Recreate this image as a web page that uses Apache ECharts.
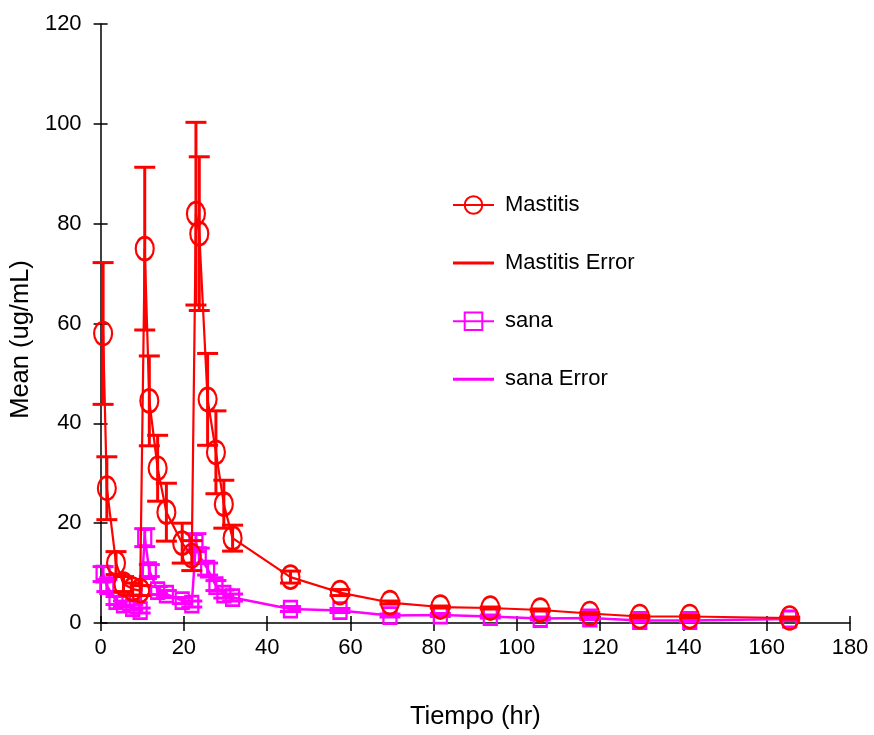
<!DOCTYPE html>
<html>
<head>
<meta charset="utf-8">
<script src="https://cdn.jsdelivr.net/npm/echarts@6/dist/echarts.min.js"></script>
<style>
  html, body { margin: 0; padding: 0; background: #ffffff; }
  #chart { width: 874px; height: 735px; }
</style>
</head>
<body>
<div id="chart"></div>
<script>
// Sampling times (hr)
const times = [0.6, 1.5, 3.7, 5.5, 7.7, 9.5, 10.6, 11.7, 13.7, 15.8, 19.6, 21.9, 22.9, 23.7,
               25.7, 27.7, 29.6, 31.7, 45.6, 57.5, 69.5, 81.6, 93.6, 105.6, 117.5, 129.5, 141.5, 165.5];

// Mastitis group: mean and standard deviation (ug/mL)
const mastitisMean = [58, 27, 12, 7.8, 6.8, 6.5, 75, 44.5, 31, 22.2, 16, 13.5, 82, 78,
                      44.8, 34.2, 23.8, 17, 9.2, 6.1, 4.1, 3.2, 3.0, 2.6, 1.9, 1.3, 1.3, 1.0];
const mastitisSD   = [14.2, 6.3, 2.3, 1.5, 1.2, 1.0, 16.3, 9.0, 6.6, 5.8, 4.0, 3.0, 18.3, 15.4,
                      9.2, 8.3, 4.8, 2.6, 1.2, 0.6, 0.3, 0.2, 0.2, 0.2, 0.2, 0.2, 0.2, 0.2];

// Healthy group ("sana"): mean and standard deviation (ug/mL)
const sanaMean = [9.8, 7.5, 4.5, 3.8, 3.1, 2.5, 17.1, 10.5, 6.5, 5.8, 4.5, 3.8, 16.1, 13.5,
                  10.8, 7.5, 5.8, 5.1, 2.8, 2.5, 1.5, 1.6, 1.3, 0.9, 1.0, 0.5, 0.5, 0.8];
const sanaSD   = [1.5, 1.2, 0.8, 0.6, 0.5, 0.5, 1.8, 1.2, 0.8, 0.7, 0.6, 0.6, 1.8, 1.5,
                  1.2, 1.0, 0.8, 0.7, 0.5, 0.4, 0.3, 0.3, 0.3, 0.3, 0.3, 0.3, 0.3, 0.3];

const RED = '#ff0000';
const MAGENTA = '#ff00ff';
const FONT = "'Liberation Sans', Arial, sans-serif";

const ellipse = 'path://M0,-1A1,1,0,1,1,0,1A1,1,0,1,1,0,-1Z';

function points(mean) {
  return times.map((t, i) => [t, mean[i]]);
}

// Vertical mean ± SD bars with flat caps
function errorBars(name, mean, sd, color, z) {
  return {
    type: 'custom',
    name: name,
    xAxisIndex: 0,
    yAxisIndex: 0,
    z: z,
    itemStyle: { color: color },
    data: times.map((t, i) => [t, mean[i] - sd[i], mean[i] + sd[i]]),
    encode: { x: 0, y: [1, 2] },
    renderItem: function (params, api) {
      const x = api.value(0);
      const lo = api.coord([x, api.value(1)]);
      const hi = api.coord([x, api.value(2)]);
      const half = 10.5;
      const style = { stroke: color, lineWidth: 3, fill: null };
      return {
        type: 'group',
        children: [
          { type: 'line', shape: { x1: lo[0], y1: hi[1], x2: lo[0], y2: lo[1] }, style: style },
          { type: 'line', shape: { x1: lo[0] - half, y1: hi[1], x2: lo[0] + half, y2: hi[1] }, style: style },
          { type: 'line', shape: { x1: lo[0] - half, y1: lo[1], x2: lo[0] + half, y2: lo[1] }, style: style }
        ]
      };
    }
  };
}

const tickText = { color: '#000', fontFamily: FONT, fontSize: 22 };
const nameText = { color: '#000', fontFamily: FONT, fontSize: 25.5 };

const chart = echarts.init(document.getElementById('chart'), null, { renderer: 'canvas' });
chart.setOption({
  animation: false,
  backgroundColor: '#ffffff',
  grid: { left: 100, right: 24, top: 24, bottom: 111, containLabel: false },
  legend: {
    orient: 'vertical',
    left: 447,
    top: 189,
    itemWidth: 41,
    itemHeight: 22,
    itemGap: 36.1,
    textStyle: { color: '#000', fontFamily: FONT, fontSize: 22, padding: [0, 0, 0, 6] },
    data: [
      { name: 'Mastitis' },
      { name: 'Mastitis Error', icon: 'path://M0,0H41V3H0Z' },
      { name: 'sana' },
      { name: 'sana Error', icon: 'path://M0,0H41V3H0Z' }
    ]
  },
  xAxis: [
    {
      type: 'value', min: 0, max: 180, interval: 20,
      name: 'Tiempo (hr)', nameLocation: 'middle', nameGap: 81,
      nameTextStyle: nameText,
      axisLine: { lineStyle: { color: '#000', width: 1.5 } },
      axisTick: { show: true, length: 8, lineStyle: { color: '#000', width: 1.5 } },
      axisLabel: Object.assign({ margin: 14 }, tickText),
      splitLine: { show: false }
    },
    {
      type: 'value', min: 0, max: 180, interval: 20, position: 'bottom',
      axisLine: { show: false },
      axisTick: { show: true, inside: true, length: 7, lineStyle: { color: '#000', width: 1.5 } },
      axisLabel: { show: false },
      splitLine: { show: false }
    }
  ],
  yAxis: [
    {
      type: 'value', min: 0, max: 120, interval: 20,
      name: 'Mean (ug/mL)', nameLocation: 'middle', nameGap: 64,
      nameTextStyle: Object.assign({ padding: [0, 32, 0, 0] }, nameText),
      axisLine: { show: true, lineStyle: { color: '#000', width: 1.5 } },
      axisTick: { show: true, length: 7, lineStyle: { color: '#000', width: 1.5 } },
      axisLabel: Object.assign({ margin: 19 }, tickText),
      splitLine: { show: false }
    },
    {
      type: 'value', min: 0, max: 120, interval: 20, position: 'left',
      axisLine: { show: false },
      axisTick: { show: true, inside: true, length: 7, lineStyle: { color: '#000', width: 1.5 } },
      axisLabel: { show: false },
      splitLine: { show: false }
    }
  ],
  series: [
    errorBars('sana Error', sanaMean, sanaSD, MAGENTA, 2),
    {
      type: 'line', name: 'sana', data: points(sanaMean), z: 3,
      symbol: 'rect', symbolSize: [13, 16],
      lineStyle: { color: MAGENTA, width: 2.5 },
      itemStyle: { color: 'rgba(255,255,255,0)', borderColor: MAGENTA, borderWidth: 2.5 }
    },
    errorBars('Mastitis Error', mastitisMean, mastitisSD, RED, 4),
    {
      type: 'line', name: 'Mastitis', data: points(mastitisMean), z: 5,
      symbol: ellipse, symbolSize: [18, 23],
      lineStyle: { color: RED, width: 2.2 },
      itemStyle: { color: 'rgba(255,255,255,0)', borderColor: RED, borderWidth: 2.4 }
    }
  ]
});
</script>
</body>
</html>
